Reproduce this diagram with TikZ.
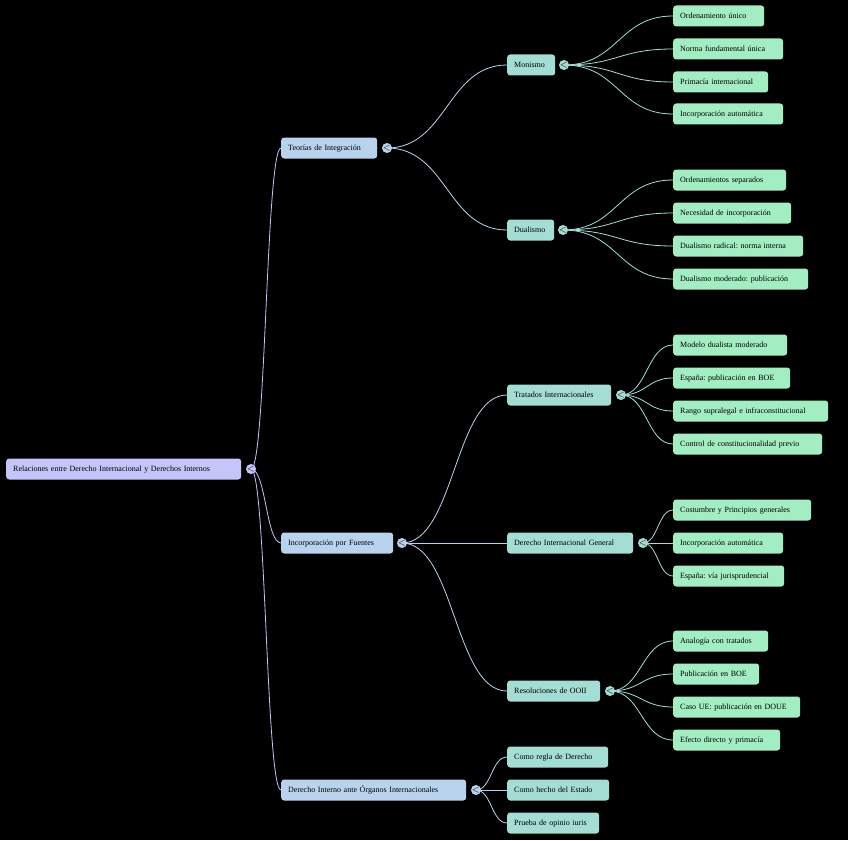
\documentclass[tikz,border=0pt]{standalone}
\usepackage{fontspec}
\setmainfont{Liberation Serif}
\usetikzlibrary{backgrounds, calc}
\definecolor{rootfill}{HTML}{C4C6FA}
\definecolor{topicfill}{HTML}{B9D3EE}
\definecolor{subfill}{HTML}{A3DDD3}
\definecolor{leaffill}{HTML}{A3EDC2}
\frenchspacing
\newcommand{\branch}[3]{\draw[#1] let \p1=(#2.center), \p2=(#3.west) in (\p1) .. controls ({(\x1+\x2)/2},\y1) and ({(\x1+\x2)/2},\y2) .. (\p2);}

\begin{document}
\begin{tikzpicture}[
  x=1pt, y=-1pt,
  box/.style={rounded corners=3pt, anchor=west, minimum height=21pt, inner xsep=7pt, inner ysep=0pt, align=left, text width=#1, text height=6pt, text depth=1.5pt, font=\fontsize{8}{9.6}\selectfont, text=black},
  rootbox/.style={box=#1, fill=rootfill},
  topicbox/.style={box=#1, fill=topicfill},
  subbox/.style={box=#1, fill=subfill},
  leafbox/.style={box=#1, fill=leaffill},
  knob/.style={circle, fill=#1, inner sep=0pt, minimum size=10pt, font=\sffamily\fontsize{9}{9}\selectfont\bfseries, text=black!80},
  link/.style={line width=0.8pt, draw=#1},
]
  \useasboundingbox (0,0) rectangle (848,840);

  % Root
  \node[rootbox=221pt] (root) at (6,469) {Relaciones entre Derecho Internacional y Derechos Internos};
  \node[knob=rootfill] (root-c) at (251,469) {<};

  % Main branches
  \node[topicbox=82pt] (teo) at (281,148) {Teorías de Integración};
  \node[knob=topicfill] (teo-c) at (387,148) {<};
  \node[topicbox=98pt] (inc) at (281,543) {Incorporación por Fuentes};
  \node[knob=topicfill] (inc-c) at (402,543) {<};
  \node[topicbox=171pt] (der) at (281,790) {Derecho Interno ante Órganos Internacionales};
  \node[knob=topicfill] (der-c) at (476,790) {<};

  % Second level
  \node[subbox=34pt] (mon) at (507,65) {Monismo};
  \node[knob=subfill] (mon-c) at (564,65) {<};
  \node[subbox=33pt] (dua) at (507,230) {Dualismo};
  \node[knob=subfill] (dua-c) at (563,230) {<};
  \node[subbox=90pt] (tra) at (507,395) {Tratados Internacionales};
  \node[knob=subfill] (tra-c) at (621,395) {<};
  \node[subbox=112pt] (dig) at (507,543) {Derecho Internacional General};
  \node[knob=subfill] (dig-c) at (643,543) {<};
  \node[subbox=79pt] (res) at (507,691) {Resoluciones de OOII};
  \node[knob=subfill] (res-c) at (610,691) {<};
  \node[subbox=87pt] (reg) at (507,757) {Como regla de Derecho};
  \node[subbox=88pt] (hec) at (507,790) {Como hecho del Estado};
  \node[subbox=78pt] (pru) at (507,823) {Prueba de opinio iuris};

  % Leaves: monismo
  \node[leafbox=77pt] (m1) at (673,16) {Ordenamiento único};
  \node[leafbox=96pt] (m2) at (673,49) {Norma fundamental única};
  \node[leafbox=81pt] (m3) at (673,82) {Primacía internacional};
  \node[leafbox=96pt] (m4) at (673,114) {Incorporación automática};

  % Leaves: dualismo
  \node[leafbox=99pt] (d1) at (673,180) {Ordenamientos separados};
  \node[leafbox=104pt] (d2) at (673,213) {Necesidad de incorporación};
  \node[leafbox=116pt] (d3) at (673,246) {Dualismo radical: norma interna};
  \node[leafbox=121pt] (d4) at (673,279) {Dualismo moderado: publicación};

  % Leaves: tratados
  \node[leafbox=100pt] (t1) at (673,345) {Modelo dualista moderado};
  \node[leafbox=103pt] (t2) at (673,378) {España: publicación en BOE};
  \node[leafbox=141pt] (t3) at (673,411) {Rango supralegal e infraconstitucional};
  \node[leafbox=135pt] (t4) at (673,444) {Control de constitucionalidad previo};

  % Leaves: derecho internacional general
  \node[leafbox=124pt] (g1) at (673,510) {Costumbre y Principios generales};
  \node[leafbox=96pt] (g2) at (673,543) {Incorporación automática};
  \node[leafbox=97pt] (g3) at (673,576) {España: vía jurisprudencial};

  % Leaves: resoluciones
  \node[leafbox=81pt] (r1) at (673,641) {Analogía con tratados};
  \node[leafbox=72pt] (r2) at (673,674) {Publicación en BOE};
  \node[leafbox=113pt] (r3) at (673,707) {Caso UE: publicación en DOUE};
  \node[leafbox=93pt] (r4) at (673,740) {Efecto directo y primacía};

  \begin{pgfonlayer}{background}
    \fill[black] (0,0) rectangle (848,840);
    % Links
    \foreach \t in {teo,inc,der} {\branch{link=rootfill}{root-c}{\t}}
    \foreach \s in {mon,dua} {\branch{link=topicfill}{teo-c}{\s}}
    \foreach \s in {tra,dig,res} {\branch{link=topicfill}{inc-c}{\s}}
    \foreach \s in {reg,hec,pru} {\branch{link=topicfill}{der-c}{\s}}
    \foreach \l in {m1,m2,m3,m4} {\branch{link=subfill}{mon-c}{\l}}
    \foreach \l in {d1,d2,d3,d4} {\branch{link=subfill}{dua-c}{\l}}
    \foreach \l in {t1,t2,t3,t4} {\branch{link=subfill}{tra-c}{\l}}
    \foreach \l in {g1,g2,g3} {\branch{link=subfill}{dig-c}{\l}}
    \foreach \l in {r1,r2,r3,r4} {\branch{link=subfill}{res-c}{\l}}
  \end{pgfonlayer}
\end{tikzpicture}
\end{document}
